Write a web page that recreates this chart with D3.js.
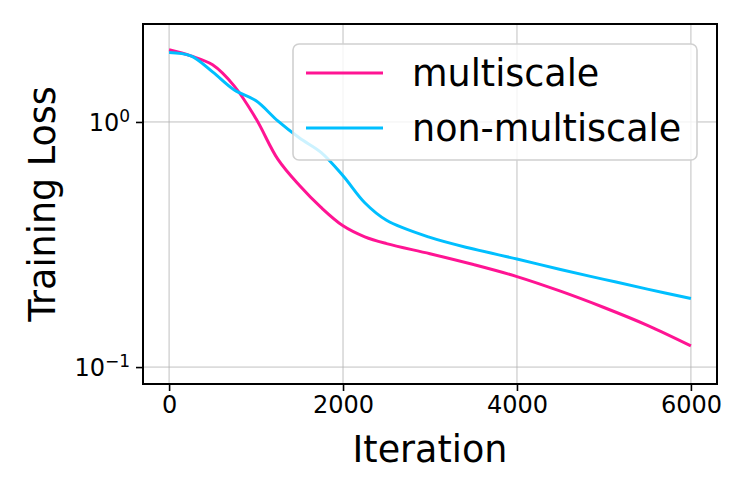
<!DOCTYPE html>
<html>
<head>
<meta charset="utf-8">
<script src="https://cdn.jsdelivr.net/npm/d3@7"></script>
<style>
  body { margin: 0; background: #fff; }
  text { font-family: "DejaVu Sans", sans-serif; fill: #000; }
</style>
</head>
<body>
<div id="main"></div>
<script>
var iterations = [0, 250, 500, 750, 1000, 1250, 1500, 1750, 2000, 2250, 2500, 3000, 3500, 4000, 4500, 5000, 5500, 6000];
var multiscale = [1.97, 1.86, 1.71, 1.40, 1.03, 0.705, 0.55, 0.447, 0.377, 0.340, 0.319, 0.290, 0.262, 0.234, 0.204, 0.175, 0.148, 0.122];
var nonMultiscale = [1.92, 1.86, 1.60, 1.35, 1.22, 1.01, 0.86, 0.75, 0.603, 0.468, 0.397, 0.338, 0.303, 0.276, 0.25, 0.228, 0.208, 0.1905];
var seriesNames = ["multiscale", "non-multiscale"];
var seriesColors = ["#ff1493", "#00bfff"];
var xTicks = [0, 2000, 4000, 6000];
var yTicks = [0.1, 1];

var W = 747, H = 498;
var margin = {top: 24, right: 30, bottom: 114, left: 143};
var width = W - margin.left - margin.right;
var height = H - margin.top - margin.bottom;

var svg = d3.select("#main")
  .append("svg")
  .attr("width", W)
  .attr("height", H);

var g = svg.append("g")
  .attr("transform", "translate(" + margin.left + "," + margin.top + ")");

var x = d3.scaleLinear()
  .domain([-300, 6300])
  .range([0, width]);

var y = d3.scaleLog()
  .domain([0.0853, 2.51])
  .range([height, 0]);

// grid
g.selectAll(".gx")
  .data(xTicks)
  .enter()
  .append("line")
  .attr("x1", d => x(d)).attr("x2", d => x(d))
  .attr("y1", 0).attr("y2", height)
  .style("stroke", "#b0b0b0")
  .style("stroke-width", 0.8);

g.selectAll(".gy")
  .data(yTicks)
  .enter()
  .append("line")
  .attr("y1", d => y(d)).attr("y2", d => y(d))
  .attr("x1", 0).attr("x2", width)
  .style("stroke", "#b0b0b0")
  .style("stroke-width", 0.8);

var series = [multiscale, nonMultiscale];
var line = d3.line()
  .x((d, i) => x(iterations[i]))
  .y(d => y(d))
  .curve(d3.curveCatmullRom.alpha(0.5));

g.selectAll(".data-line")
  .data(series)
  .enter()
  .append("path")
  .classed("data-line", true)
  .attr("d", d => line(d))
  .style("fill", "none")
  .style("stroke", (d, i) => seriesColors[i])
  .style("stroke-width", 3);

// axes
var xAxis = g.append("g")
  .attr("transform", "translate(0," + height + ")")
  .call(d3.axisBottom(x).tickValues(xTicks).tickSize(7).tickPadding(5).tickFormat(d3.format("d")));
xAxis.selectAll("text").style("font-size", "24px");

var yAxis = g.append("g")
  .call(d3.axisLeft(y).tickValues(yTicks).tickSize(7).tickPadding(6).tickFormat(""));
yAxis.selectAll(".tick").each(function(d) {
  var t = d3.select(this).append("text")
    .attr("x", -13)
    .attr("dy", "0.35em")
    .attr("text-anchor", "end")
    .style("font-size", "24px");
  t.append("tspan").text("10");
  t.append("tspan")
    .attr("dy", "-0.55em")
    .style("font-size", "17px")
    .text(Math.round(Math.log10(d)) === 0 ? "0" : "\u22121");
});

g.selectAll(".domain").remove();
g.selectAll(".tick line").style("stroke", "#000").style("stroke-width", 1.6);

g.append("rect")
  .attr("width", width)
  .attr("height", height)
  .style("fill", "none")
  .style("stroke", "#000")
  .style("stroke-width", 2);

// legend
var lg = g.append("g")
  .attr("transform", "translate(" + (293 - margin.left) + "," + (44 - margin.top) + ")");
lg.append("rect")
  .attr("width", 404)
  .attr("height", 116)
  .attr("rx", 6)
  .style("fill", "rgba(255,255,255,0.8)")
  .style("stroke", "#d0d0d0")
  .style("stroke-width", 1.6);
seriesNames.forEach(function(name, i) {
  var yy = 29 + i * 55;
  lg.append("line")
    .attr("x1", 13).attr("x2", 90)
    .attr("y1", yy).attr("y2", yy)
    .style("stroke", seriesColors[i])
    .style("stroke-width", 3);
  lg.append("text")
    .attr("x", 119)
    .attr("y", yy)
    .attr("dy", "0.35em")
    .style("font-size", "36.5px")
    .text(name);
});

// axis labels
svg.append("text")
  .attr("x", margin.left + width / 2)
  .attr("y", 462)
  .attr("text-anchor", "middle")
  .style("font-size", "36.5px")
  .text("Iteration");

svg.append("text")
  .attr("transform", "translate(55," + (margin.top + height / 2) + ") rotate(-90)")
  .attr("text-anchor", "middle")
  .style("font-size", "36.5px")
  .text("Training Loss");
</script>
</body>
</html>
